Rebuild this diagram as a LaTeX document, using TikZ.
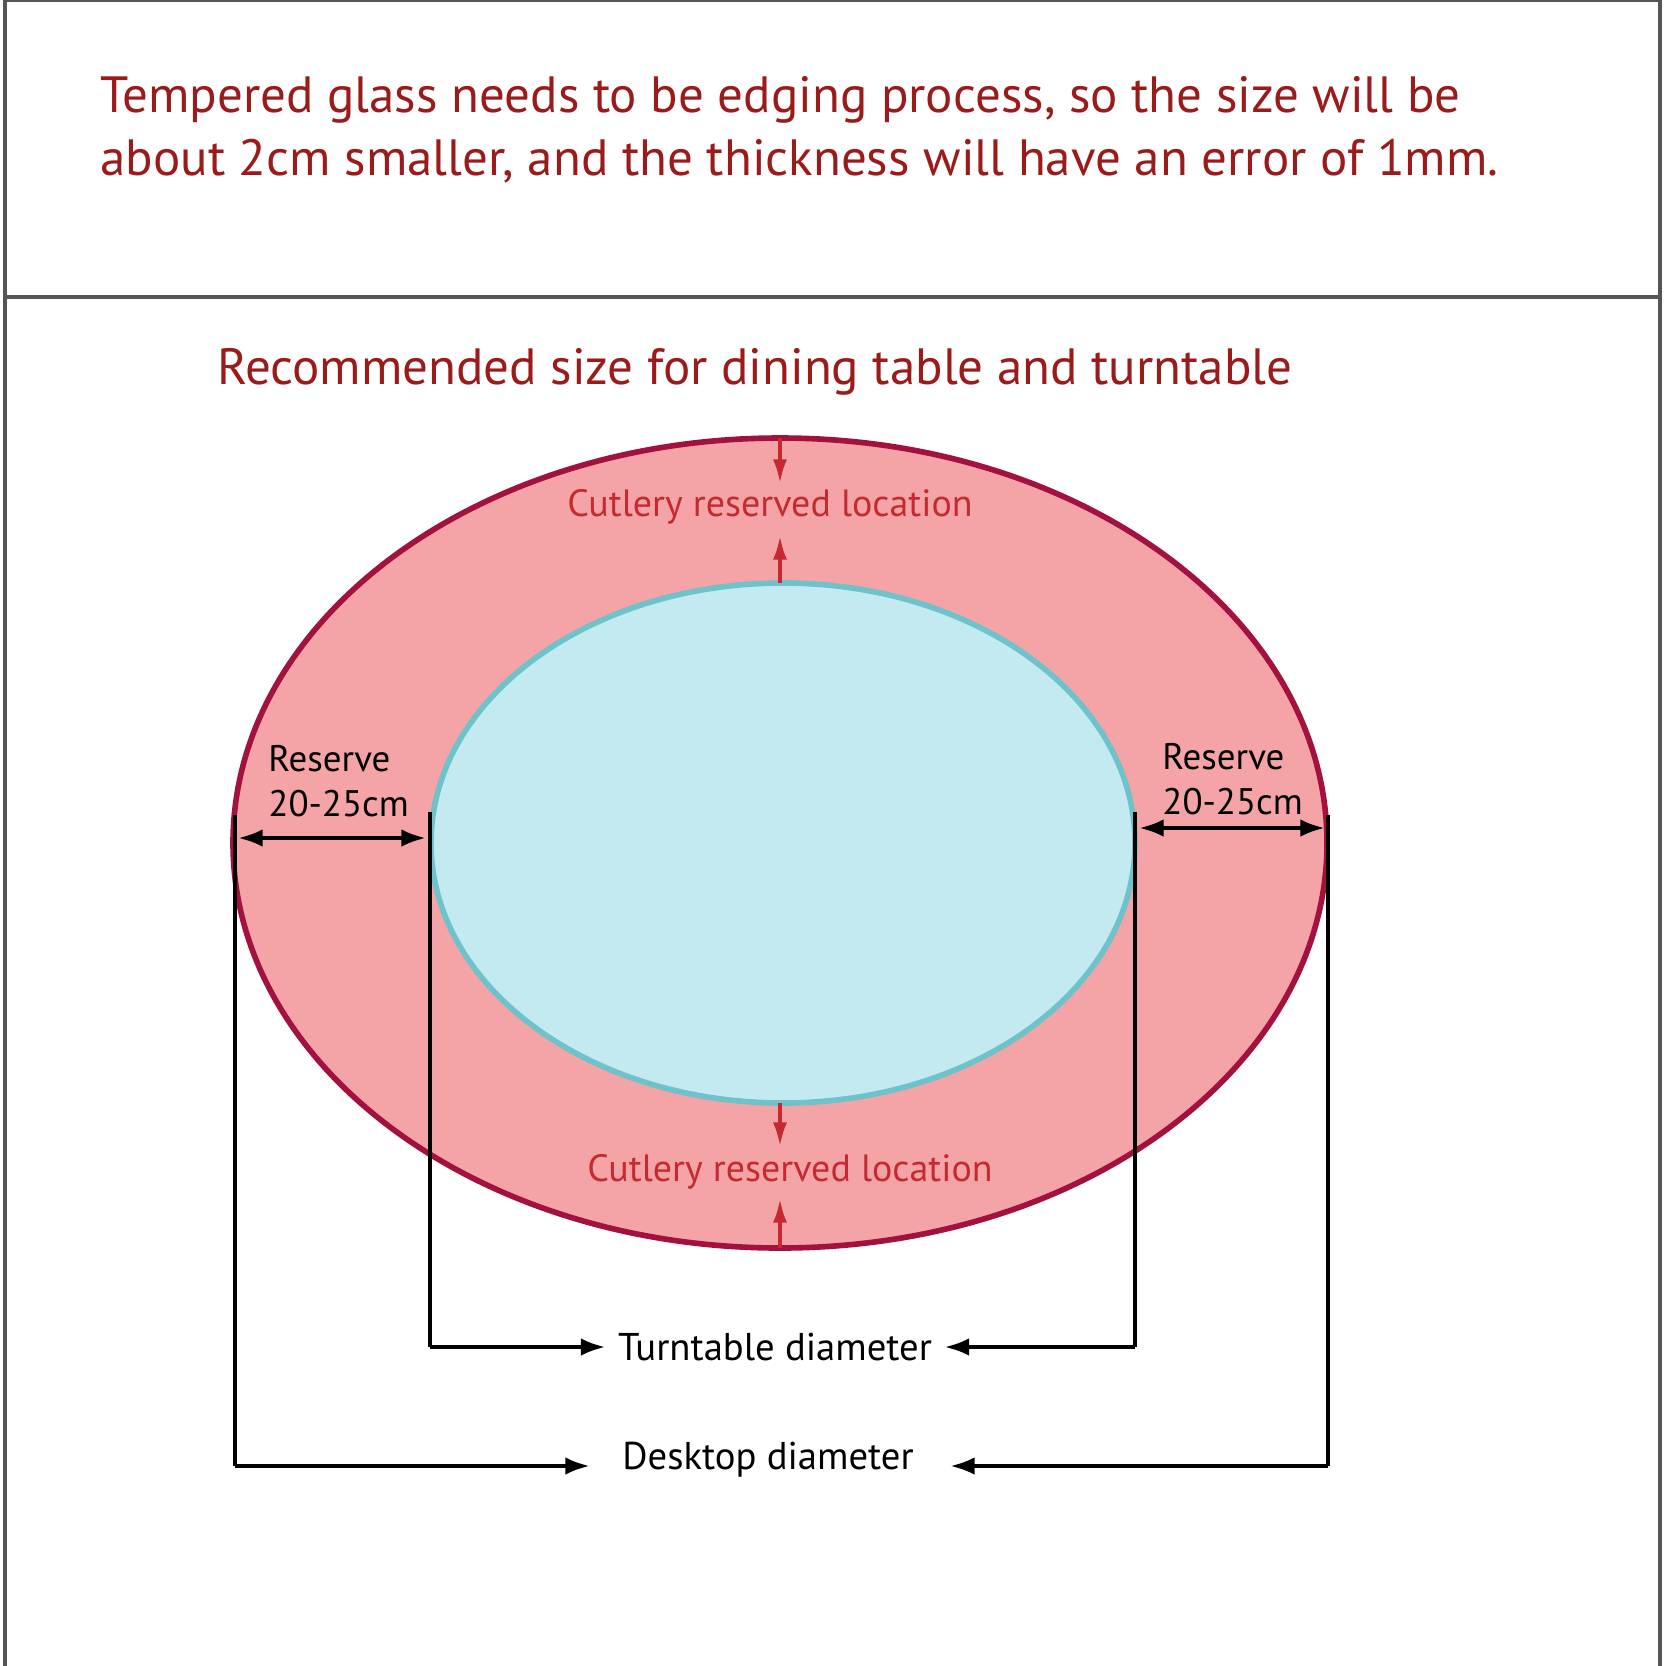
\documentclass[tikz,border=0pt]{standalone}
\usepackage{fontspec}
\setmainfont{PT Sans}
\usetikzlibrary{arrows.meta}
\definecolor{headred}{HTML}{9B1B1B}
\definecolor{cutred}{HTML}{C42A30}
\definecolor{tablefill}{HTML}{F4A4A6}
\definecolor{tableedge}{HTML}{A3123F}
\definecolor{turnfill}{HTML}{C3E9F1}
\definecolor{turnedge}{HTML}{6EC3CB}
\definecolor{framegray}{HTML}{555555}
\tikzset{
  dimline/.style={black, line width=1.2pt},
  dimarrow/.style={dimline, -{Latex[length=7pt,width=5pt]}},
  cutarrow/.style={cutred, line width=1.2pt, -{Latex[length=7pt,width=4pt]}},
  cutlabel/.style={cutred, font=\fontsize{10.8}{13}\selectfont},
  dimlabel/.style={black, font=\fontsize{10.5}{13}\selectfont},
}
\begin{document}
\begin{tikzpicture}[x=0.01cm,y=-0.01cm]
            \useasboundingbox (0,0) rectangle (1666,1666);
            % Frame
            \draw[framegray, line width=1.2pt] (5,1666) -- (5,0) -- (1660,0) -- (1660,1666);
            \draw[framegray, line width=1.2pt] (5,297) -- (1660,297);

            % Headings
            \node[headred, anchor=west, align=left, font=\fontsize{14.5}{18}\selectfont] (note) at (88,130)
                {Tempered glass needs to be edging process, so the size will be\\about 2cm smaller, and the thickness will have an error of 1mm.};
            \node[headred, font=\fontsize{14.5}{18}\selectfont] (title) at (755,372) {Recommended size for dining table and turntable};

            % Table and turntable
            \draw[tableedge, fill=tablefill, line width=1.6pt] (780,843) ellipse (547 and 405);
            \draw[turnedge, fill=turnfill, line width=1.6pt] (783,843) ellipse (352 and 260);

            % Cutlery locations
            \coordinate (topout) at (780,438);
            \coordinate (topin) at (780,583);
            \coordinate (botin) at (780,1103);
            \coordinate (botout) at (780,1248);
            \node[cutlabel] (cuttop) at (770,507) {Cutlery reserved location};
            \node[cutlabel] (cutbot) at (790,1172) {Cutlery reserved location};
            \draw[cutarrow] (topout) -- ++(0,46);
            \draw[cutarrow] (topin) -- ++(0,-48);
            \draw[cutarrow] (botin) -- ++(0,44);
            \draw[cutarrow] (botout) -- ++(0,-50);

            % Reserve widths
            \node[dimlabel, anchor=west, align=left] (resl) at (256,781) {Reserve\\20-25cm};
            \node[dimlabel, anchor=west, align=left] (resr) at (1150,779) {Reserve\\20-25cm};
            \coordinate (ol) at (235,815);
            \coordinate (il) at (430,812);
            \coordinate (ir) at (1135,812);
            \coordinate (or) at (1328,815);
            \draw[dimline, {Latex[length=7pt,width=5pt]}-{Latex[length=7pt,width=5pt]}] (238,838) -- (426,838);
            \draw[dimline, {Latex[length=7pt,width=5pt]}-{Latex[length=7pt,width=5pt]}] (1139,828) -- (1325,828);

            % Diameters
            \node[dimlabel, font=\fontsize{11}{13}\selectfont] (turn) at (775,1347) {Turntable diameter};
            \node[dimlabel, font=\fontsize{11}{13}\selectfont] (desk) at (768,1460) {Desktop diameter};
            \draw[dimline] (il) |- (430,1347);
            \draw[dimarrow] (430,1347) -- (turn.west);
            \draw[dimline] (ir) |- (1135,1347);
            \draw[dimarrow] (1135,1347) -- (turn.east);
            \draw[dimline] (ol) |- (235,1466);
            \draw[dimarrow] (235,1466) -- (590,1466);
            \draw[dimline] (or) |- (1328,1466);
            \draw[dimarrow] (1328,1466) -- (950,1466);
\end{tikzpicture}
\end{document}
